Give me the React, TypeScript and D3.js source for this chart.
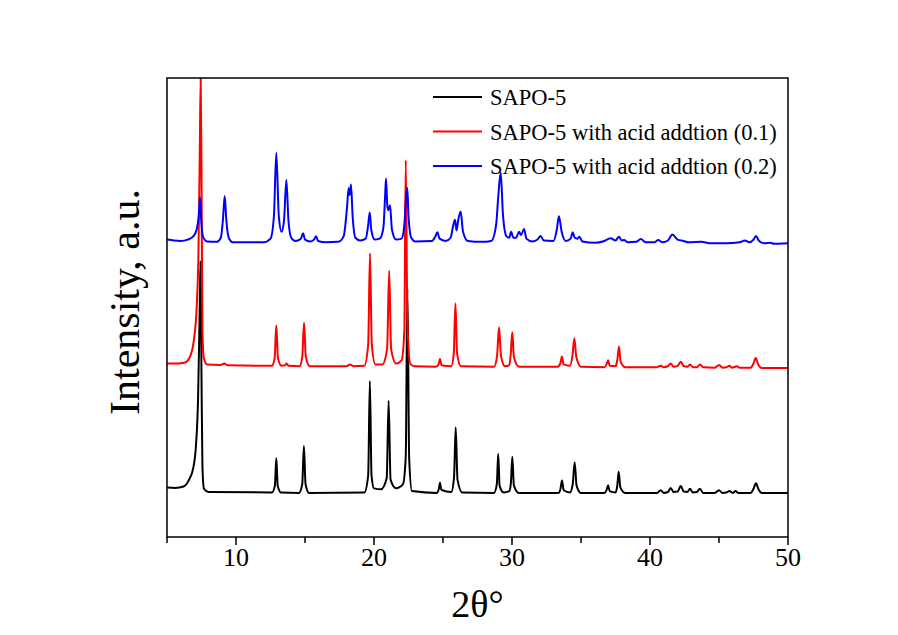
import React from "react";
import * as d3 from "d3";

// 2θ (deg), plotted intensity (a.u., stacked, frame range 0..1000)
const sapo5: [number, number][] = [
  [5, 108], [5.6, 107], [6.2, 110], [6.6, 125], [6.9, 150], [7.1, 200], [7.25, 300], [7.36, 480], [7.43, 600], [7.5, 350], [7.57, 150], [7.68, 105], [8, 98],
  [12.6, 97], [12.82, 112], [12.92, 172], [13.02, 112], [13.25, 97],
  [14.55, 96], [14.8, 115], [14.92, 198], [15.04, 115], [15.3, 96],
  [19.3, 97], [19.58, 135], [19.7, 340], [19.82, 135], [20.0, 106], [20.5, 104], [20.92, 128], [21.06, 297], [21.2, 125], [21.6, 106],
  [22.1, 115], [22.3, 175], [22.42, 540], [22.55, 170], [22.75, 100], [24.55, 96], [24.7, 105], [24.78, 118], [24.88, 103],
  [25.6, 98], [25.8, 130], [25.92, 239], [26.05, 125], [26.4, 97],
  [28.7, 96], [28.9, 115], [29.0, 181], [29.1, 112], [29.4, 97], [29.8, 100], [29.92, 118], [30.02, 175], [30.14, 112], [30.5, 96],
  [33.35, 96], [33.5, 103], [33.62, 123], [33.75, 102], [34.2, 97], [34.4, 115], [34.54, 163], [34.68, 112], [35.0, 96],
  [36.7, 96], [36.85, 102], [36.96, 113], [37.08, 100], [37.5, 97], [37.63, 112], [37.73, 142], [37.85, 108], [38.2, 96],
  [40.5, 96], [40.78, 102], [41.0, 96], [41.3, 98], [41.5, 107], [41.7, 98], [42.0, 99], [42.23, 111], [42.45, 99], [42.7, 98],
  [42.9, 105], [43.1, 97], [43.4, 98], [43.62, 105], [43.85, 96], [44.7, 96], [45.0, 102], [45.25, 96], [45.55, 97], [45.75, 100],
  [46.0, 96], [46.2, 100], [46.4, 96], [47.3, 96], [47.5, 105], [47.68, 117], [47.86, 104], [48.1, 96], [50, 96],
];

const sapo5Acid01: [number, number][] = [
  [5, 378], [5.8, 378], [6.3, 380], [6.7, 395], [6.95, 430], [7.15, 500], [7.28, 620], [7.38, 850], [7.44, 1000], [7.5, 800], [7.57, 450], [7.67, 390], [7.9, 376],
  [8.9, 375], [9.15, 378], [9.4, 374],
  [12.6, 373], [12.8, 390], [12.92, 461], [13.04, 390], [13.3, 373], [13.55, 374], [13.67, 378], [13.8, 373],
  [14.6, 372], [14.8, 392], [14.93, 467], [15.06, 392], [15.35, 372],
  [18.0, 372], [18.26, 376], [18.5, 372],
  [19.3, 373], [19.58, 420], [19.71, 618], [19.84, 420], [20.1, 376], [20.6, 376], [20.95, 410], [21.1, 580], [21.24, 410], [21.6, 378],
  [22.0, 385], [22.2, 450], [22.3, 821], [22.42, 470], [22.62, 378], [22.9, 372],
  [24.5, 371], [24.68, 376], [24.78, 388], [24.9, 374], [25.6, 372], [25.78, 400], [25.9, 509], [26.02, 400], [26.3, 372],
  [28.7, 371], [28.92, 395], [29.06, 457], [29.2, 395], [29.5, 372], [29.8, 374], [29.9, 395], [30.02, 446], [30.14, 392], [30.5, 371],
  [33.3, 371], [33.5, 378], [33.62, 393], [33.74, 376], [34.2, 373], [34.38, 395], [34.52, 433], [34.66, 392], [35.0, 371],
  [36.7, 370], [36.85, 376], [36.96, 385], [37.08, 373], [37.5, 372], [37.63, 385], [37.75, 415], [37.87, 382], [38.2, 370],
  [40.5, 370], [40.78, 373], [41.0, 370], [41.3, 372], [41.5, 378], [41.7, 371], [42.0, 373], [42.23, 382], [42.45, 372], [42.7, 371],
  [42.9, 376], [43.1, 370], [43.4, 370], [43.62, 376], [43.85, 370], [44.7, 369], [45.0, 375], [45.25, 369], [45.55, 370], [45.75, 373],
  [45.95, 369], [46.1, 370], [46.3, 372], [46.5, 369], [47.3, 369], [47.5, 378], [47.66, 390], [47.84, 376], [48.1, 368], [50, 368],
];

const sapo5Acid02: [number, number][] = [
  [5, 648], [5.5, 646], [6.0, 645], [6.5, 648], [6.9, 655], [7.15, 670], [7.3, 700], [7.39, 740], [7.48, 690], [7.6, 655], [7.9, 644],
  [8.6, 643], [8.9, 652], [9.05, 690], [9.18, 743], [9.3, 690], [9.5, 650], [9.8, 642],
  [12.0, 642], [12.5, 650], [12.75, 700], [12.92, 837], [13.1, 700], [13.3, 665], [13.48, 690], [13.65, 778], [13.8, 690], [14.0, 652],
  [14.3, 645], [14.7, 650], [14.86, 662], [15.0, 648], [15.4, 644], [15.65, 648], [15.8, 655], [15.95, 645], [16.5, 642],
  [17.4, 643], [17.8, 655], [18.05, 720], [18.16, 760], [18.24, 745], [18.33, 768], [18.45, 700], [18.65, 652], [19.0, 646],
  [19.4, 650], [19.58, 680], [19.69, 707], [19.8, 670], [20.05, 648], [20.4, 650], [20.6, 662], [20.7, 680], [20.8, 740], [20.87, 781],
  [20.97, 720], [21.05, 712], [21.16, 723], [21.3, 670], [21.6, 648], [22.0, 650], [22.2, 680], [22.32, 740], [22.41, 761], [22.5, 700],
  [22.7, 652], [23.0, 644], [24.2, 645], [24.45, 655], [24.59, 664], [24.75, 650], [25.2, 645], [25.55, 652], [25.75, 680], [25.87, 691],
  [25.98, 668], [26.1, 690], [26.28, 709], [26.45, 665], [26.8, 645], [27.8, 643], [28.5, 645], [28.85, 680], [29.0, 740], [29.18, 794],
  [29.35, 700], [29.6, 655], [29.8, 652], [29.93, 665], [30.1, 652], [30.3, 652], [30.51, 665], [30.65, 658], [30.87, 671], [31.05, 650],
  [31.5, 644], [31.85, 648], [32.07, 656], [32.3, 646], [33.0, 645], [33.25, 670], [33.4, 699], [33.6, 665], [33.9, 645], [34.25, 650],
  [34.4, 664], [34.55, 652], [34.75, 650], [34.88, 654], [35.1, 644], [36.0, 641], [36.7, 645], [37.15, 651], [37.5, 646], [37.75, 654],
  [37.95, 646], [38.12, 647], [38.4, 642], [39.0, 643], [39.33, 649], [39.7, 642], [40.3, 642], [40.6, 647], [40.9, 642], [41.3, 646],
  [41.62, 659], [42.0, 648], [42.42, 645], [42.8, 642], [43.75, 643], [44.3, 640], [45.5, 640], [46.5, 642], [46.88, 646], [47.2, 642],
  [47.5, 648], [47.68, 656], [47.9, 645], [48.3, 640], [48.7, 641], [49.0, 639], [50, 640],
];

const seriesNames = ["SAPO-5", "SAPO-5 with acid addtion (0.1)", "SAPO-5 with acid addtion (0.2)"];
const seriesColors = ["#000000", "#ff0000", "#0000ff"];
const seriesData = [sapo5, sapo5Acid01, sapo5Acid02];

const xMajorTicks = [10, 20, 30, 40, 50];
const xMinorTicks = [5, 15, 25, 35, 45];

const W = 898;
const H = 635;
const M = { left: 167, right: 788, top: 78, bottom: 537 };

export default function App() {
  const x = d3.scaleLinear().domain([5, 50]).range([M.left, M.right]);
  const y = d3.scaleLinear().domain([0, 1000]).range([M.bottom, M.top]);
  const line = d3
    .line<[number, number]>()
    .x((d) => x(d[0]))
    .y((d) => y(d[1]))
    .curve(d3.curveMonotoneX);
  const font = "'Liberation Serif', 'Times New Roman', serif";

  return (
    <svg
      width={W}
      height={H}
      style={{ position: "absolute", left: 0, top: 0, background: "#fff" }}
      fontFamily={font}
    >
      <rect x={0} y={0} width={W} height={H} fill="#fff" />
      <defs>
        <clipPath id="plotclip">
          <rect x={M.left} y={M.top} width={M.right - M.left} height={M.bottom - M.top} />
        </clipPath>
      </defs>
      <g clipPath="url(#plotclip)">
        {seriesData.map((s, i) => (
          <path
            key={i}
            d={line(s) || ""}
            fill="none"
            stroke={seriesColors[i]}
            strokeWidth={2}
            strokeLinejoin="round"
          />
        ))}
      </g>
      <rect
        x={M.left}
        y={M.top}
        width={M.right - M.left}
        height={M.bottom - M.top}
        fill="none"
        stroke="#000"
        strokeWidth={1.5}
      />
      {xMajorTicks.map((t) => (
        <g key={"M" + t}>
          <line x1={x(t)} x2={x(t)} y1={M.bottom} y2={M.bottom + 8} stroke="#000" strokeWidth={1.5} />
          <text x={x(t)} y={566} textAnchor="middle" fontSize={26} fill="#000">
            {t}
          </text>
        </g>
      ))}
      {xMinorTicks.map((t) => (
        <line key={"m" + t} x1={x(t)} x2={x(t)} y1={M.bottom} y2={M.bottom + 6} stroke="#000" strokeWidth={1.5} />
      ))}
      <text x={(M.left + M.right) / 2} y={617} textAnchor="middle" fontSize={38} fill="#000">
        2θ°
      </text>
      <text
        transform={`translate(139, 302) rotate(-90)`}
        textAnchor="middle"
        fontSize={42}
        fill="#000"
      >
        Intensity, a.u.
      </text>
      {seriesNames.map((n, i) => (
        <g key={n}>
          <line x1={433} x2={482} y1={97 + i * 34.5} y2={97 + i * 34.5} stroke={seriesColors[i]} strokeWidth={2} />
          <text x={490} y={105 + i * 34.5} fontSize={22.5} fill="#000">
            {n}
          </text>
        </g>
      ))}
    </svg>
  );
}
